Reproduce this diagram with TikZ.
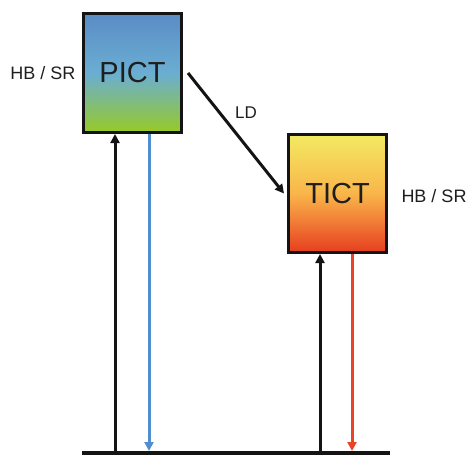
\documentclass[tikz,border=0pt]{standalone}
\usepackage{fontspec}
\setmainfont{Liberation Sans}
\usetikzlibrary{arrows.meta,shadings}
\definecolor{txt}{HTML}{1E1E1E}
\definecolor{pblue}{HTML}{5A8CC6}
\definecolor{pmid}{HTML}{6AAED2}
\definecolor{pgreen}{HTML}{98CA26}
\definecolor{tyel}{HTML}{F3EA62}
\definecolor{tmid}{HTML}{F9B54A}
\definecolor{tred}{HTML}{E63E1F}
\definecolor{ablue}{HTML}{4F8FD0}
\definecolor{ared}{HTML}{E84425}
\tikzset{
  box/.style={draw=black!92, line width=3pt, minimum width=98pt, inner sep=0pt, font=\fontsize{29}{31}\selectfont, text=txt},
  lab/.style={font=\fontsize{18}{20}\selectfont, text=txt, inner sep=0pt},
  arr/.style={line width=3pt, -{Triangle[length=9pt,width=9pt]}},
}
\begin{document}
\begin{tikzpicture}[x=1pt,y=-1pt]
\useasboundingbox (0,0) rectangle (468,456);
\node[box, minimum height=119pt, top color=pblue, bottom color=pgreen, middle color=pmid] (P) at (132.5,73) {PICT};
\node[box, minimum height=118pt, top color=tyel, bottom color=tred, middle color=tmid] (T) at (337.5,193.5) {TICT};
\node[lab] (hb1) at (43,73) {HB / SR};
\node[lab] (hb2) at (434,196) {HB / SR};
\node[lab, font=\fontsize{17}{19}\selectfont] (ld) at (246,113) {LD};
\coordinate (gl) at (82,453);
\coordinate (gr) at (390,453);
\draw[line width=4pt, black!92] (gl) -- (gr);
\coordinate (a1) at (115,453);
\coordinate (a2) at (149,451);
\coordinate (a3) at (320,453);
\coordinate (a4) at (352,451);
\draw[arr, black!92] (a1) -- (a1 |- P.south);
\draw[arr, ablue] (a2 |- P.south) -- (a2);
\draw[arr, black!92] (a3) -- (a3 |- T.south);
\draw[arr, ared] (a4 |- T.south) -- (a4);
\draw[arr, black!92] ([xshift=5pt]P.east) -- ([xshift=-3pt]T.west);
\end{tikzpicture}
\end{document}
